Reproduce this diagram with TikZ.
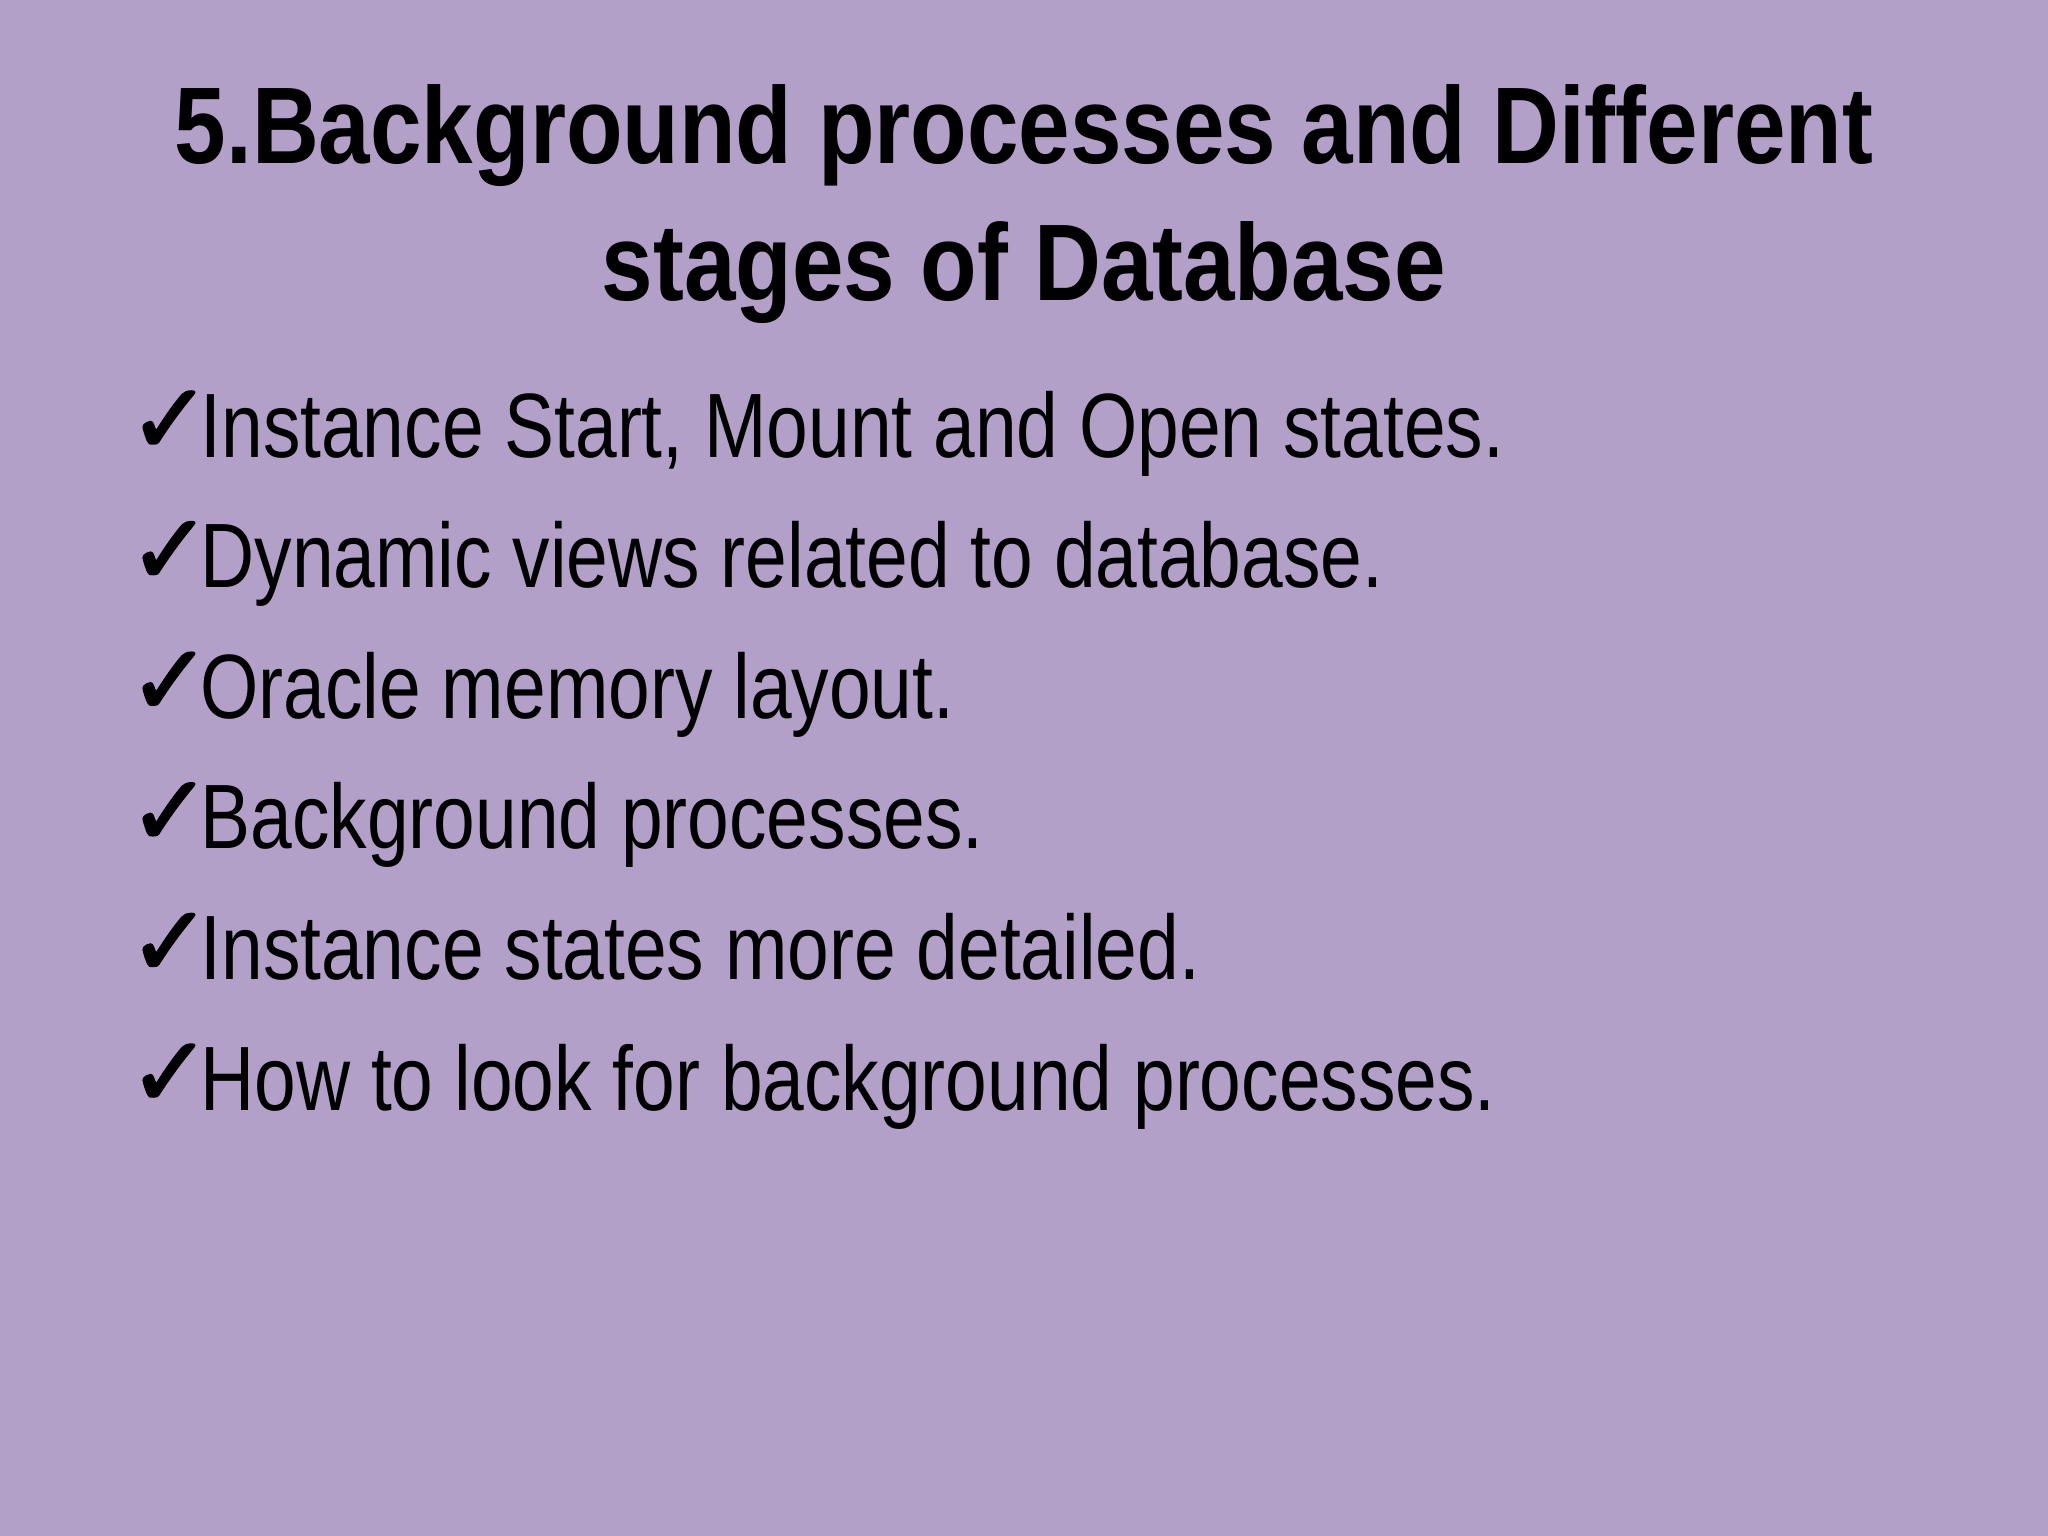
\documentclass[tikz,border=0pt]{standalone}
\usepackage{fontspec}
\setmainfont[FakeStretch=0.82]{Liberation Sans}
\newfontfamily\ttlfont[FakeStretch=0.85]{Liberation Sans}
\newfontfamily\symfont[FakeBold=2]{DejaVu Sans}
\definecolor{bgc}{RGB}{178,160,200}
\begin{document}
\begin{tikzpicture}[x=0.013061cm,y=-0.013061cm,
  ttl/.style={anchor=base,font=\fontsize{31}{37}\selectfont\ttlfont\bfseries},
  itm/.style={anchor=base west,font=\fontsize{26}{31}\selectfont,inner sep=0pt},
  chk/.style={anchor=base west,font=\fontsize{28}{32}\selectfont\symfont,inner sep=0pt}]
\fill[bgc] (0,0) rectangle (1568,1176);
\useasboundingbox (0,0) rectangle (1568,1176);
\node[ttl] (t1) at (784,125) {5.Background processes and Different};
\node[ttl] (t2) at (784,230) {stages of Database};
\foreach \i/\t in {1/{Instance Start, Mount and Open states.},2/{Dynamic views related to database.},3/{Oracle memory layout.},4/{Background processes.},5/{Instance states more detailed.},6/{How to look for background processes.}}{
  \node[chk] (c\i) at (98,247+100*\i) {✓};
  \node[itm] (b\i) at (153,250+100*\i) {\t};
}
\end{tikzpicture}
\end{document}
